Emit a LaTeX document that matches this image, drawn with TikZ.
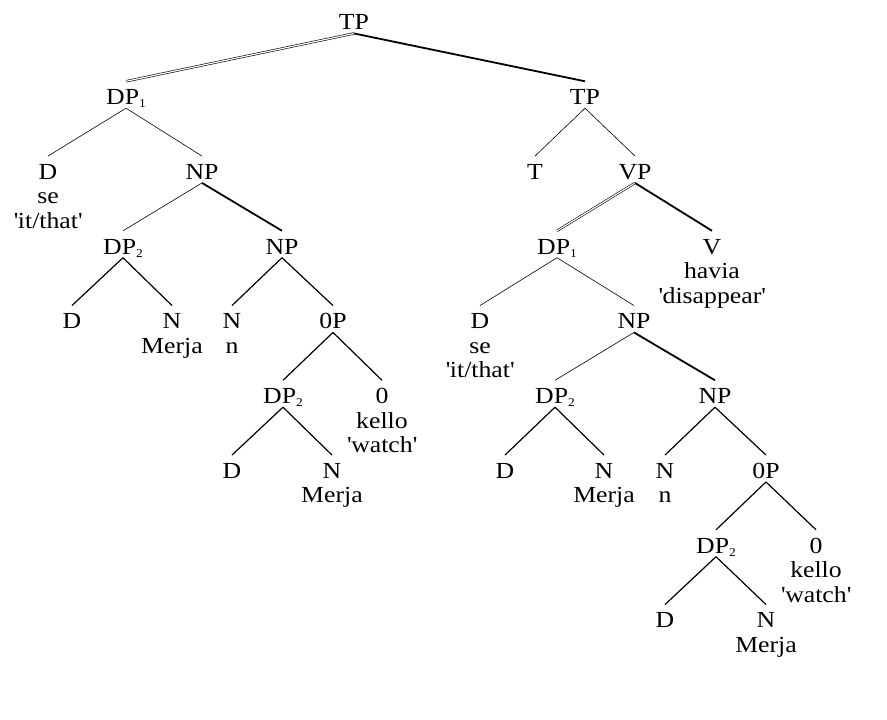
\documentclass[tikz,border=0pt]{standalone}
\usepackage{fontspec}
\setmainfont{Liberation Serif}[FakeStretch=1.12]
\usetikzlibrary{positioning}
\newcommand{\idx}[1]{\raisebox{-3pt}{\fontsize{12}{12}\selectfont #1}}
\newcommand{\gloss}[1]{\textquotesingle#1\textquotesingle}
\newcommand{\lex}[2]{\begin{tabular}[t]{@{}c@{}}#1\\#2\end{tabular}}

\begin{document}
\begin{tikzpicture}[x=1pt,y=1pt,on grid,font=\fontsize{23}{24.5}\selectfont]
  \tikzstyle{cat}=[inner sep=0pt,text height=23pt,text depth=3.5pt]
  \tikzstyle{light}=[line width=0.6pt]
  \tikzstyle{mid}=[line width=1.2pt]
  \tikzstyle{heavy}=[line width=1.8pt]
  \tikzstyle{twin}=[double,line width=0.6pt,double distance=1.2pt]

  \useasboundingbox (0,0) rectangle (887,-720);

  \node[cat] (tp) at (354,-20) {TP};
  % left branch
  \node[cat] (dpa) [below left=74.75pt and 228pt of tp] {DP\idx{1}};
  \node[cat] (da) [below left=74.75pt and 78pt of dpa] {\lex{D}{se\\\gloss{it/that}}};
  \node[cat] (npa) [below right=74.75pt and 76pt of dpa] {NP};
  \node[cat] (dpb) [below left=74.75pt and 79pt of npa] {DP\idx{2}};
  \node[cat] (npb) [below right=74.75pt and 80pt of npa] {NP};
  \node[cat] (db) [below left=74.75pt and 51pt of dpb] {D};
  \node[cat] (nb) [below right=74.75pt and 49pt of dpb] {\lex{N}{Merja}};
  \node[cat] (nc) [below left=74.75pt and 50pt of npb] {\lex{N}{n}};
  \node[cat] (zpa) [below right=74.75pt and 51pt of npb] {0P};
  \node[cat] (dpc) [below left=74.75pt and 50pt of zpa] {DP\idx{2}};
  \node[cat] (za) [below right=74.75pt and 49pt of zpa] {\lex{0}{kello\\\gloss{watch}}};
  \node[cat] (dc) [below left=74.75pt and 51pt of dpc] {D};
  \node[cat] (nd) [below right=74.75pt and 49pt of dpc] {\lex{N}{Merja}};
  % right branch
  \node[cat] (tpb) [below right=74.75pt and 231pt of tp] {TP};
  \node[cat] (tt) [below left=74.75pt and 50pt of tpb] {T};
  \node[cat] (vp) [below right=74.75pt and 50pt of tpb] {VP};
  \node[cat] (dpd) [below left=74.75pt and 78pt of vp] {DP\idx{1}};
  \node[cat] (vv) [below right=74.75pt and 77pt of vp] {\lex{V}{havia\\\gloss{disappear}}};
  \node[cat] (dd) [below left=74.75pt and 77pt of dpd] {\lex{D}{se\\\gloss{it/that}}};
  \node[cat] (npc) [below right=74.75pt and 77pt of dpd] {NP};
  \node[cat] (dpe) [below left=74.75pt and 79pt of npc] {DP\idx{2}};
  \node[cat] (npd) [below right=74.75pt and 81pt of npc] {NP};
  \node[cat] (de) [below left=74.75pt and 50pt of dpe] {D};
  \node[cat] (ne) [below right=74.75pt and 49pt of dpe] {\lex{N}{Merja}};
  \node[cat] (nf) [below left=74.75pt and 50pt of npd] {\lex{N}{n}};
  \node[cat] (zpb) [below right=74.75pt and 51pt of npd] {0P};
  \node[cat] (dpf) [below left=74.75pt and 50pt of zpb] {DP\idx{2}};
  \node[cat] (zb) [below right=74.75pt and 50pt of zpb] {\lex{0}{kello\\\gloss{watch}}};
  \node[cat] (df) [below left=74.75pt and 51pt of dpf] {D};
  \node[cat] (ng) [below right=74.75pt and 50pt of dpf] {\lex{N}{Merja}};

  \path (tp.south) edge[twin] (dpa.north);
  \path (tp.south) edge[heavy] (tpb.north);
  \path (dpa.south) edge[light] (da.north);
  \path (dpa.south) edge[light] (npa.north);
  \path (npa.south) edge[light] (dpb.north);
  \path (npa.south) edge[heavy] (npb.north);
  \path (dpb.south) edge[mid] (db.north);
  \path (dpb.south) edge[mid] (nb.north);
  \path (npb.south) edge[mid] (nc.north);
  \path (npb.south) edge[mid] (zpa.north);
  \path (zpa.south) edge[mid] (dpc.north);
  \path (zpa.south) edge[mid] (za.north);
  \path (dpc.south) edge[mid] (dc.north);
  \path (dpc.south) edge[mid] (nd.north);
  \path (tpb.south) edge[light] (tt.north);
  \path (tpb.south) edge[light] (vp.north);
  \path (vp.south) edge[twin] (dpd.north);
  \path (vp.south) edge[heavy] (vv.north);
  \path (dpd.south) edge[light] (dd.north);
  \path (dpd.south) edge[light] (npc.north);
  \path (npc.south) edge[light] (dpe.north);
  \path (npc.south) edge[heavy] (npd.north);
  \path (dpe.south) edge[mid] (de.north);
  \path (dpe.south) edge[mid] (ne.north);
  \path (npd.south) edge[mid] (nf.north);
  \path (npd.south) edge[mid] (zpb.north);
  \path (zpb.south) edge[mid] (dpf.north);
  \path (zpb.south) edge[mid] (zb.north);
  \path (dpf.south) edge[mid] (df.north);
  \path (dpf.south) edge[mid] (ng.north);
\end{tikzpicture}
\end{document}
